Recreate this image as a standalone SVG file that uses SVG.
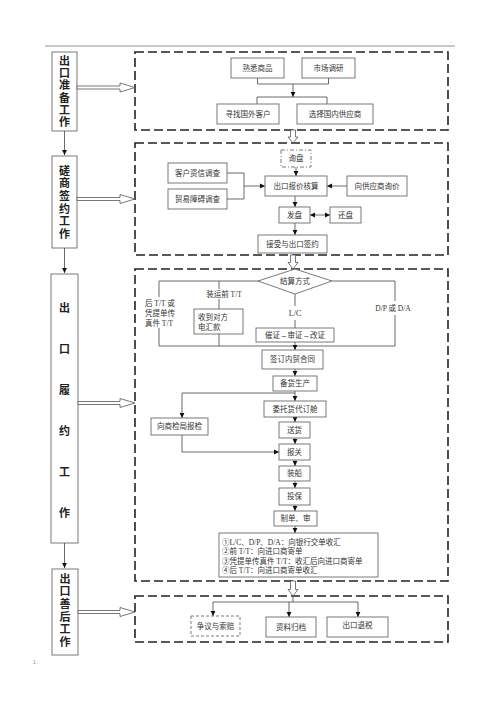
<svg xmlns="http://www.w3.org/2000/svg" width="500" height="708" viewBox="0 0 500 708">
<style>
.box{fill:#fff;stroke:#6b6b6b;stroke-width:0.9}
.dbox{fill:#fff;stroke:#6b6b6b;stroke-width:0.9;stroke-dasharray:3,2}
.ddbox{fill:#fff;stroke:#6b6b6b;stroke-width:0.9;stroke-dasharray:4,2,1,2}
.dash{fill:none;stroke:#222;stroke-width:1.6;stroke-dasharray:9,4}
.t{font-family:"Liberation Serif","Noto Sans CJK SC",serif;font-size:7.5px;fill:#333;text-anchor:middle;dominant-baseline:central}
.ts{font-family:"Liberation Serif","Noto Sans CJK SC",serif;font-size:7.5px;fill:#333;text-anchor:start;dominant-baseline:central}
.side{font-family:"Noto Sans CJK SC",sans-serif;font-size:11px;font-weight:bold;fill:#222;text-anchor:middle;writing-mode:vertical-rl}
.sidec{font-family:"Noto Sans CJK SC",sans-serif;font-size:11px;font-weight:bold;fill:#222;text-anchor:middle;dominant-baseline:central}
.ln{fill:none;stroke:#444;stroke-width:0.8}
.hol{fill:#fff;stroke:#555;stroke-width:0.8}
.tiny{font-family:"Liberation Sans",sans-serif;font-size:5px;fill:#888}
</style>
<defs>
<marker id="ah" markerWidth="6" markerHeight="6" refX="5" refY="3" orient="auto-start-reverse" markerUnits="userSpaceOnUse">
<path d="M0,0.6 L5,3 L0,5.4z" fill="#111"/>
</marker>
</defs>
<rect width="500" height="708" fill="#fff"/>
<path d="M45,46 H455" stroke="#777" stroke-width="0.8"/>
<text class="tiny" x="449" y="43">..</text>
<text class="tiny" x="33" y="664">1 .</text>

<!-- side phase boxes -->
<g id="side1">
<rect class="box" x="52" y="52" width="25" height="79"/>
<text class="side" x="64.5" y="92" style="letter-spacing:1.3px">出口准备工作</text>
</g>
<g id="side2">
<rect class="box" x="52" y="156" width="25" height="92"/>
<text class="side" x="64.5" y="203" style="letter-spacing:1.6px">磋商签约工作</text>
</g>
<g id="side3">
<rect class="box" x="51" y="274" width="27" height="269"/>
<text class="sidec" x="64.5" y="307">出</text>
<text class="sidec" x="64.5" y="348">口</text>
<text class="sidec" x="64.5" y="389">履</text>
<text class="sidec" x="64.5" y="430">约</text>
<text class="sidec" x="64.5" y="471">工</text>
<text class="sidec" x="64.5" y="512">作</text>
</g>
<g id="side4">
<rect class="box" x="52" y="569" width="26" height="86"/>
<text class="side" x="65" y="611" style="letter-spacing:1.6px">出口善后工作</text>
</g>

<!-- dashed phase frames -->
<g id="frame1"><rect class="dash" x="135" y="52" width="313" height="78"/></g>
<g id="frame2"><rect class="dash" x="135" y="143" width="313" height="112"/></g>
<g id="frame3"><rect class="dash" x="135" y="269" width="313" height="312"/></g>
<g id="frame4"><rect class="dash" x="135" y="596" width="313" height="46"/></g>

<!-- connectors -->
<g id="connectors">
<path class="ln" d="M64.5,131 V155" marker-end="url(#ah)"/>
<path class="ln" d="M64.5,248 V273" marker-end="url(#ah)"/>
<path class="ln" d="M64.5,543 V568" marker-end="url(#ah)"/>
<path class="hol" d="M77,86 H120 V83 L135,87.5 L120,92 V89 H77 Z"/>
<path class="hol" d="M77,197.5 H120 V194.5 L135,199 L120,203.5 V200.5 H77 Z"/>
<path class="hol" d="M78,401.5 H120 V398.5 L135,403 L120,407.5 V404.5 H78 Z"/>
<path class="hol" d="M78,610.5 H120 V607.5 L135,612 L120,616.5 V613.5 H78 Z"/>
<path class="hol" d="M290.5,130 V137 H288 L293,143 L298,137 H295.5 V130 Z"/>
<path class="hol" d="M290.5,255 V262.5 H288 L293,269 L298,262.5 H295.5 V255 Z"/>
<path class="hol" d="M290.5,581 V589.5 H288 L293,596 L298,589.5 H295.5 V581 Z"/>
<!-- frame 1 -->
<path class="ln" d="M257.5,78 V84 H328.5 V78"/>
<path class="ln" d="M293,84 V97" marker-end="url(#ah)"/>
<path class="ln" d="M257,104 V97 H327 V104"/>
<!-- frame 2 -->
<path class="ln" d="M227,173 H244 V199 H227"/>
<path class="ln" d="M244,186 H265" marker-end="url(#ah)"/>
<path class="ln" d="M296,167 V176" marker-end="url(#ah)"/>
<path class="ln" d="M347,186 H327" marker-end="url(#ah)"/>
<path class="ln" d="M295,196 V207" marker-end="url(#ah)"/>
<path class="ln" d="M310,215 H330" marker-start="url(#ah)" marker-end="url(#ah)"/>
<path class="ln" d="M295,223 V235" marker-end="url(#ah)"/>
<!-- frame 3 -->
<path class="ln" d="M258,281 H159 V297 M159,328 V346 H395 V315 M395,301 V281 H332"/>
<path class="ln" d="M219,281 V289 M219,299 V309 M219,334 V346"/>
<path class="ln" d="M295,294 V306 M295,320 V328"/>
<path class="ln" d="M295,342 V350" marker-end="url(#ah)"/>
<path class="ln" d="M295,369 V376" marker-end="url(#ah)"/>
<path class="ln" d="M295,391 V401" marker-end="url(#ah)"/>
<path class="ln" d="M295,393 H182 V418" marker-end="url(#ah)"/>
<path class="ln" d="M295,417 V422" marker-end="url(#ah)"/>
<path class="ln" d="M295,438 V444" marker-end="url(#ah)"/>
<path class="ln" d="M182,435 V452 H279" marker-end="url(#ah)"/>
<path class="ln" d="M295,460 V466" marker-end="url(#ah)"/>
<path class="ln" d="M295,481 V488" marker-end="url(#ah)"/>
<path class="ln" d="M295,505 V511" marker-end="url(#ah)"/>
<path class="ln" d="M295,526 V533" marker-end="url(#ah)"/>
<!-- frame 4 -->
<path class="ln" d="M293,596 V602 M213,602 H358"/>
<path class="ln" d="M213,602 V616" marker-end="url(#ah)"/>
<path class="ln" d="M289,602 V617" marker-end="url(#ah)"/>
<path class="ln" d="M358,602 V617" marker-end="url(#ah)"/>
</g>

<!-- frame 1 nodes -->
<g id="n_shuxi"><rect class="box" x="231" y="58" width="53" height="20"/><text class="t" x="257.5" y="68">熟悉商品</text></g>
<g id="n_shichang"><rect class="box" x="302" y="58" width="53" height="20"/><text class="t" x="328.5" y="68">市场调研</text></g>
<g id="n_xunzhao"><rect class="box" x="217" y="104" width="62" height="20"/><text class="t" x="248" y="114">寻找国外客户</text></g>
<g id="n_xuanze"><rect class="box" x="297" y="104" width="76" height="20"/><text class="t" x="335" y="114">选择国内供应商</text></g>

<!-- frame 2 nodes -->
<g id="n_xunpan"><rect class="ddbox" x="281" y="150" width="30" height="17"/><text class="t" x="296" y="158.5">询盘</text></g>
<g id="n_zixin"><rect class="box" x="168" y="163" width="59" height="20"/><text class="t" x="197.5" y="173">客户资信调查</text></g>
<g id="n_zhangai"><rect class="box" x="168" y="189" width="59" height="20"/><text class="t" x="197.5" y="199">贸易障碍调查</text></g>
<g id="n_baojia"><rect class="box" x="265" y="176" width="62" height="20"/><text class="t" x="296" y="186">出口报价核算</text></g>
<g id="n_xunjia"><rect class="box" x="347" y="176" width="60" height="20"/><text class="t" x="377" y="186">向供应商询价</text></g>
<g id="n_fapan"><rect class="box" x="279" y="207" width="31" height="16"/><text class="t" x="294.5" y="215">发盘</text></g>
<g id="n_huanpan"><rect class="box" x="330" y="207" width="31" height="16"/><text class="t" x="345.5" y="215">还盘</text></g>
<g id="n_jieshou"><rect class="box" x="258" y="235" width="69" height="18"/><text class="t" x="292.5" y="244">接受与出口签约</text></g>

<!-- frame 3 nodes -->
<g id="n_jiesuan"><polygon class="box" points="258,281 295,269 332,281 295,294"/><text class="t" x="295" y="281.5">结算方式</text></g>
<g id="l_hou"><text class="ts" x="145" y="303">后 T/T 或</text><text class="ts" x="145" y="313">凭提单传</text><text class="ts" x="145" y="323">真件 T/T</text></g>
<g id="l_qian"><text class="t" x="224" y="294">装运前 T/T</text></g>
<g id="n_shoudao"><rect class="box" x="194" y="309" width="49" height="25"/><text class="ts" x="198" y="317.5">收到对方</text><text class="ts" x="198" y="327">电汇款</text></g>
<g id="l_lc"><text class="t" x="295" y="313" style="font-size:8px">L/C</text></g>
<g id="l_dp"><text class="t" x="393" y="308">D/P 或 D/A</text></g>
<g id="n_cuizheng"><rect class="box" x="256" y="328" width="78" height="14"/><text class="t" x="295" y="335">催证→审证→改证</text></g>
<g id="n_qianding"><rect class="box" x="262" y="350" width="61" height="19"/><text class="t" x="292.5" y="359.5">签订内贸合同</text></g>
<g id="n_beihuo"><rect class="box" x="273" y="376" width="44" height="15"/><text class="t" x="295" y="383.5">备货生产</text></g>
<g id="n_weituo"><rect class="box" x="264" y="401" width="62" height="16"/><text class="t" x="295" y="409">委托货代订舱</text></g>
<g id="n_shangjian"><rect class="box" x="151" y="418" width="57" height="17"/><text class="t" x="179.5" y="426.5">向商检局报检</text></g>
<g id="n_songhuo"><rect class="box" x="279" y="422" width="31" height="16"/><text class="t" x="294.5" y="430">送货</text></g>
<g id="n_baoguan"><rect class="box" x="279" y="444" width="31" height="16"/><text class="t" x="294.5" y="452">报关</text></g>
<g id="n_zhuangchuan"><rect class="box" x="279" y="466" width="31" height="15"/><text class="t" x="294.5" y="473.5">装船</text></g>
<g id="n_toubao"><rect class="box" x="279" y="488" width="31" height="17"/><text class="t" x="294.5" y="496.5">投保</text></g>
<g id="n_zhidan"><rect class="box" x="274" y="511" width="43" height="15"/><text class="t" x="295.5" y="518.5">制单、审</text></g>
<g id="n_shouhui"><rect class="box" x="219" y="533" width="159" height="44"/>
<text class="ts" x="222" y="542">①L/C、D/P、D/A：向银行交单收汇</text>
<text class="ts" x="222" y="551.5">②前 T/T：向进口商寄单</text>
<text class="ts" x="222" y="561">③凭提单传真件 T/T：收汇后向进口商寄单</text>
<text class="ts" x="222" y="570.5">④后 T/T：向进口商寄单收汇</text>
</g>

<!-- frame 4 nodes -->
<g id="n_zhengyi"><rect class="dbox" x="191" y="616" width="49" height="20"/><text class="t" x="215.5" y="626">争议与索赔</text></g>
<g id="n_ziliao"><rect class="box" x="266" y="617" width="50" height="20"/><text class="t" x="291" y="627">资料归档</text></g>
<g id="n_tuishui"><rect class="box" x="327" y="617" width="61" height="20"/><text class="t" x="357.5" y="625">出口退税</text></g>
</svg>
